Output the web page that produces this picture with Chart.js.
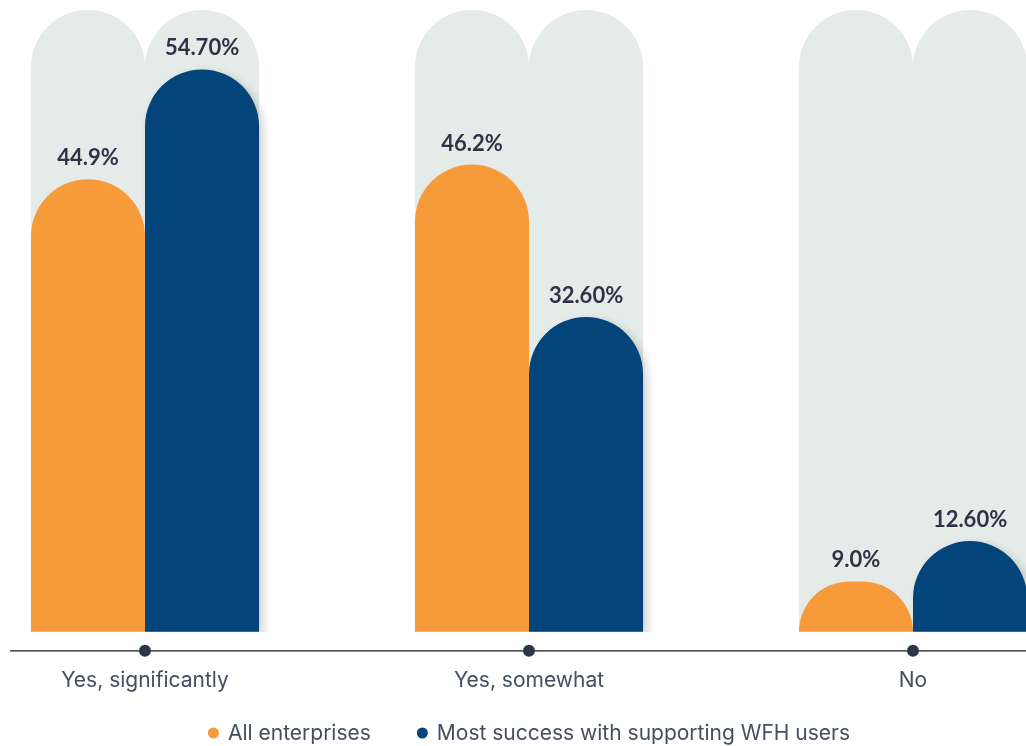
<!DOCTYPE html>
<html>
<head>
<meta charset="utf-8">
<script src="https://cdn.jsdelivr.net/npm/chart.js@4/dist/chart.umd.min.js"></script>
<style>
  html, body { margin: 0; padding: 0; background: #ffffff; overflow: hidden; }
  #wrap { position: absolute; left: -101px; top: 0; width: 1260px; height: 746px; }
</style>
</head>
<body>
<div id="wrap"><canvas id="wfhChart"></canvas></div>
<script>
var categories = ['Yes, significantly', 'Yes, somewhat', 'No'];
var seriesNames = ['All enterprises', 'Most success with supporting WFH users'];
var allEnterprises = [44.9, 46.2, 9.0];
var mostSuccess = [54.7, 32.6, 12.6];
var trackValues = [60, 60, 60];
var valueDecimals = [1, 2];

var ORANGE = '#f79b3a';
var NAVY = '#03457a';
var TRACK = '#e5ebe9';
var TEXT = '#454e5e';
var LABEL = '#2c3547';
var FONT = 'Inter, Lato, sans-serif';
var BOLD_FONT = 'Lato, "Open Sans", sans-serif';

// soft drop shadow under the navy bars
var barShadow = {
  id: 'barShadow',
  beforeDatasetDraw: function (chart, args) {
    if (args.index !== 1) return;
    var c = chart.ctx;
    c.save();
    c.shadowColor = 'rgba(0, 0, 0, 0.18)';
    c.shadowBlur = 8;
    c.shadowOffsetX = 4;
    c.shadowOffsetY = 3;
  },
  afterDatasetDraw: function (chart, args) {
    if (args.index !== 1) return;
    chart.ctx.restore();
  }
};

// value labels above the bars + baseline with dots
var decorations = {
  id: 'decorations',
  afterDatasetsDraw: function (chart) {
    var c = chart.ctx;
    var area = chart.chartArea;
    c.save();
    c.font = 'bold 22px ' + BOLD_FONT;
    c.fillStyle = LABEL;
    c.textAlign = 'center';
    c.textBaseline = 'alphabetic';
    [0, 1].forEach(function (di) {
      var meta = chart.getDatasetMeta(di);
      meta.data.forEach(function (bar, i) {
        var v = chart.data.datasets[di].data[i];
        c.fillText(v.toFixed(valueDecimals[di]) + '%', bar.x, bar.y - 14);
      });
    });

    var xs = chart.scales.x;
    var lineY = area.bottom + 19;
    c.strokeStyle = '#1b1b1b';
    c.lineWidth = 1.2;
    c.beginPath();
    c.moveTo(xs.getPixelForValue(0) - 135, lineY);
    c.lineTo(chart.width, lineY);
    c.stroke();
    c.fillStyle = '#2b3648';
    categories.forEach(function (cat, i) {
      c.beginPath();
      c.arc(xs.getPixelForValue(i), lineY, 6, 0, Math.PI * 2);
      c.fill();
    });
    c.restore();
  }
};

// legend row with round markers
var dotLegend = {
  id: 'dotLegend',
  afterDraw: function (chart) {
    var c = chart.ctx;
    var colors = [ORANGE, NAVY];
    var r = 5.5, gapText = 9, gapItem = 46;
    c.save();
    c.font = '21px ' + FONT;
    var widths = seriesNames.map(function (n) { return r * 2 + gapText + c.measureText(n).width; });
    var total = widths[0] + widths[1] + gapItem;
    var x = chart.width / 2 - total / 2;
    var y = 733;
    c.textBaseline = 'middle';
    c.textAlign = 'left';
    seriesNames.forEach(function (name, i) {
      c.fillStyle = colors[i];
      c.beginPath();
      c.arc(x + r, y, r, 0, Math.PI * 2);
      c.fill();
      c.fillStyle = TEXT;
      c.fillText(name, x + r * 2 + gapText, y + 1);
      x += widths[i] + gapItem;
    });
    c.restore();
  }
};

var barOpts = {
  categoryPercentage: 0.594,
  barPercentage: 1,
  borderRadius: 200,
  borderSkipped: 'start'
};

new Chart(document.getElementById('wfhChart'), {
  type: 'bar',
  data: {
    labels: categories,
    datasets: [
      Object.assign({ label: seriesNames[0], data: allEnterprises, backgroundColor: ORANGE, stack: 'a', order: 1 }, barOpts),
      Object.assign({ label: seriesNames[1], data: mostSuccess, backgroundColor: NAVY, stack: 'b', order: 1 }, barOpts),
      Object.assign({ label: 'track a', data: trackValues, backgroundColor: TRACK, stack: 'a', order: 2 }, barOpts),
      Object.assign({ label: 'track b', data: trackValues, backgroundColor: TRACK, stack: 'b', order: 2 }, barOpts)
    ]
  },
  options: {
    responsive: true,
    maintainAspectRatio: false,
    animation: false,
    events: [],
    layout: { padding: { left: 54, right: 54, top: 10, bottom: 17 } },
    plugins: {
      legend: { display: false },
      tooltip: { enabled: false }
    },
    scales: {
      x: {
        offset: true,
        grid: { display: false, drawTicks: false },
        border: { display: false },
        ticks: { color: TEXT, font: { family: FONT, size: 21 }, padding: 36 }
      },
      y: {
        display: false,
        stacked: false,
        min: 4.5,
        max: 60
      }
    }
  },
  plugins: [barShadow, decorations, dotLegend]
});
</script>
</body>
</html>
